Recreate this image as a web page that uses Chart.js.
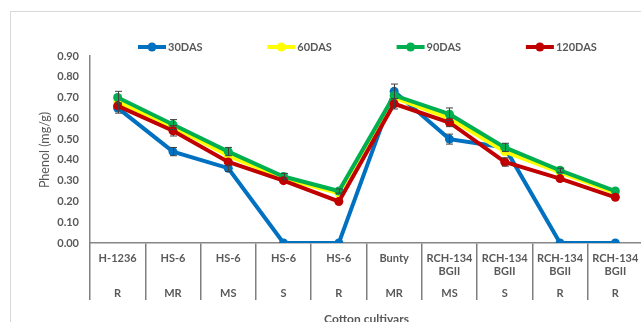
<!DOCTYPE html>
<html>
<head>
<meta charset="utf-8">
<script src="https://cdn.jsdelivr.net/npm/chart.js@4/dist/chart.umd.min.js"></script>
<style>
  html, body { margin: 0; padding: 0; background: #fff; overflow: hidden; }
  #wrap { position: relative; width: 660px; height: 322px; }
  #frame { position: absolute; left: 10px; top: 11px; width: 700px; height: 400px; border: 1px solid #d9d9d9; box-sizing: border-box; }
  canvas { position: absolute; left: 0; top: 0; }
</style>
</head>
<body>
<div id="wrap">
  <div id="frame"></div>
  <canvas id="c" width="660" height="322"></canvas>
</div>
<script>
// Cultivar names (two lines) and field reaction for each category
const cultivars = ['H-1236', 'HS-6', 'HS-6', 'HS-6', 'HS-6', 'Bunty', 'RCH-134', 'RCH-134', 'RCH-134', 'RCH-134'];
const cultivarLine2 = ['', '', '', '', '', '', 'BGII', 'BGII', 'BGII', 'BGII'];
const reactions = ['R', 'MR', 'MS', 'S', 'R', 'MR', 'MS', 'S', 'R', 'R'];

// Phenol content (mg/g) at each sampling stage
const das30 = [0.65, 0.44, 0.36, 0.00, 0.00, 0.73, 0.50, 0.46, 0.00, 0.00];
const das60 = [0.68, 0.56, 0.42, 0.31, 0.24, 0.70, 0.60, 0.44, 0.34, 0.24];
const das90 = [0.70, 0.57, 0.44, 0.32, 0.25, 0.71, 0.62, 0.46, 0.35, 0.25];
const das120 = [0.66, 0.54, 0.39, 0.30, 0.20, 0.67, 0.58, 0.39, 0.31, 0.22];

// Standard error (mg/g) for each point
const err30 = [0.025, 0.02, 0.015, 0, 0, 0.035, 0.024, 0, 0, 0];
const err60 = [0, 0, 0, 0, 0, 0, 0, 0, 0, 0];
const err90 = [0.03, 0.024, 0.02, 0.015, 0.01, 0, 0.03, 0.02, 0.01, 0];
const err120 = [0, 0.025, 0, 0, 0, 0.025, 0.02, 0.02, 0, 0];

const yTicks = [0, 0.1, 0.2, 0.3, 0.4, 0.5, 0.6, 0.7, 0.8, 0.9];

const labels = cultivars.map((c, i) => [c, cultivarLine2[i], reactions[i]].join(' '));
const textColor = '#595959';
const FONT = 'Lato, "Open Sans", sans-serif';

function series(label, data, err, color, order) {
  return {
    label, data, err,
    borderColor: color, backgroundColor: color,
    pointBackgroundColor: color, pointBorderColor: color,
    borderWidth: 4, pointRadius: 4.5, pointBorderWidth: 0,
    pointHoverRadius: 4.5, tension: 0, order
  };
}

const decorations = {
  id: 'decorations',
  afterDatasetsDraw(chart) {
    const ctx = chart.ctx;
    const x = chart.scales.x, y = chart.scales.y;
    // error bars
    ctx.save();
    ctx.strokeStyle = '#404040';
    ctx.lineWidth = 1;
    chart.data.datasets.forEach(ds => {
      ds.data.forEach((v, i) => {
        const e = ds.err[i];
        if (!e) return;
        const px = Math.round(x.getPixelForValue(i)) + 0.5;
        const top = y.getPixelForValue(v + e), bot = y.getPixelForValue(v - e);
        ctx.beginPath();
        ctx.moveTo(px, top); ctx.lineTo(px, bot);
        ctx.moveTo(px - 3.5, top); ctx.lineTo(px + 3.5, top);
        ctx.moveTo(px - 3.5, bot); ctx.lineTo(px + 3.5, bot);
        ctx.stroke();
      });
    });
    ctx.restore();
  },
  afterDraw(chart) {
    const ctx = chart.ctx;
    const x = chart.scales.x;
    ctx.save();
    ctx.fillStyle = textColor;
    ctx.textAlign = 'center';
    ctx.textBaseline = 'middle';
    ctx.font = 'bold 11px ' + FONT;
    cultivars.forEach((c, i) => {
      const px = x.getPixelForValue(i);
      ctx.fillText(c, px, 258);
      if (cultivarLine2[i]) ctx.fillText(cultivarLine2[i], px, 271);
      ctx.fillText(reactions[i], px, 293);
    });
    // axis titles
    ctx.font = 'bold 12px ' + FONT;
    ctx.fillText('Cotton cultivars', (chart.chartArea.left + chart.chartArea.right) / 2, 319);
    ctx.save();
    ctx.translate(45, 150);
    ctx.rotate(-Math.PI / 2);
    ctx.font = '12.5px ' + FONT;
    ctx.fillText('Phenol (mg/g)', 0, 0);
    ctx.restore();
    // legend
    ctx.textAlign = 'left';
    ctx.font = 'bold 11px ' + FONT;
    chart.data.datasets.forEach((ds, i) => {
      const x0 = 138 + i * 129.3, ly = 47;
      ctx.strokeStyle = ds.borderColor;
      ctx.lineWidth = 4;
      ctx.beginPath();
      ctx.moveTo(x0, ly); ctx.lineTo(x0 + 28, ly);
      ctx.stroke();
      ctx.fillStyle = ds.borderColor;
      ctx.beginPath();
      ctx.arc(x0 + 14, ly, 4.5, 0, Math.PI * 2);
      ctx.fill();
      ctx.fillStyle = textColor;
      ctx.fillText(ds.label, x0 + 30, ly);
    });
    ctx.restore();
  }
};

new Chart(document.getElementById('c'), {
  type: 'line',
  data: {
    labels,
    datasets: [
      series('30DAS', das30, err30, '#0070C0', 3),
      series('60DAS', das60, err60, '#FFFF00', 2),
      series('90DAS', das90, err90, '#00B050', 1),
      series('120DAS', das120, err120, '#C00000', 0)
    ]
  },
  options: {
    responsive: false,
    devicePixelRatio: 1,
    animation: false,
    events: [],
    layout: { padding: { left: 0, top: 56, right: 17, bottom: 0 } },
    plugins: { legend: { display: false }, tooltip: { enabled: false } },
    scales: {
      x: {
        type: 'category',
        offset: true,
        ticks: { display: false },
        grid: { display: true, drawOnChartArea: false, drawTicks: true, tickLength: 57, offset: true, color: '#7f7f7f', lineWidth: 1.5 },
        border: { display: true, color: '#868686', width: 1.5 },
        afterFit(scale) { scale.height = 79; }
      },
      y: {
        min: 0, max: 0.9,
        afterBuildTicks(scale) { scale.ticks = yTicks.map(v => ({ value: v })); },
        ticks: {
          padding: 11,
          color: textColor,
          font: { family: FONT, size: 11, weight: 'bold' },
          callback: v => Number(v).toFixed(2)
        },
        grid: { display: false, drawTicks: false },
        border: { display: true, color: '#868686', width: 1.5 },
        afterFit(scale) { scale.width = 90; }
      }
    }
  },
  plugins: [decorations]
});
</script>
</body>
</html>
